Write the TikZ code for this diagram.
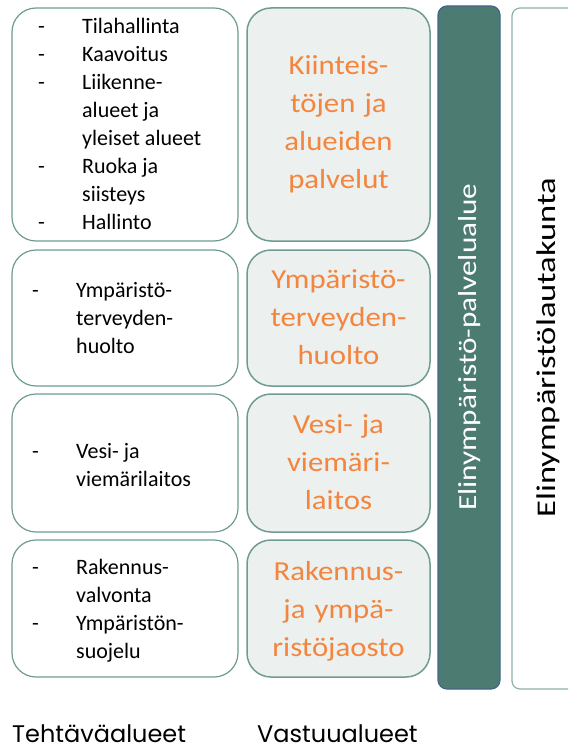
\documentclass[tikz,border=0pt]{standalone}
\usepackage{fontspec}
\setmainfont{Carlito}
\newfontfamily\labelfont{Poppins}
\newfontfamily\unitfont[FakeStretch=1.12]{Carlito}
\newfontfamily\areafont[FakeStretch=1.2]{Carlito}
\newfontfamily\boardfont[FakeStretch=1.28]{Carlito}
\usetikzlibrary{positioning}
\definecolor{boxline}{HTML}{6E9C92}
\definecolor{boxfill}{HTML}{ECF0EE}
\definecolor{areagreen}{HTML}{4B7B71}
\definecolor{areaedge}{HTML}{44648C}
\definecolor{unitorange}{HTML}{F3853E}
\definecolor{boardline}{HTML}{8FB0A6}

\begin{document}
\begin{tikzpicture}[x=1pt,y=-1pt,
	taskbox/.style={draw=boxline,line width=1.2pt,rounded corners=24pt,minimum width=226pt,outer sep=0pt,fill=white},
	unitbox/.style={draw=boxline,line width=1.5pt,rounded corners=24pt,minimum width=183pt,outer sep=0pt,fill=boxfill},
	tasklist/.style={anchor=base west,inner sep=0pt,font=\fontsize{22}{28}\selectfont},
	unitname/.style={anchor=base,inner sep=0pt,text width=180pt,align=center,text=unitorange,font=\unitfont\fontsize{27.5}{38}\selectfont},
	bottomlabel/.style={anchor=base west,inner sep=0pt,font=\labelfont\fontsize{24}{28}\selectfont}]
		\useasboundingbox (0,0) rectangle (568,751);
		\clip (0,0) rectangle (568,751);
		
		\node(t1) [taskbox,minimum height=233pt] at (125,124.5) {};
		\node(t2) [taskbox,minimum height=136pt,below=9pt of t1] {};
		\node(t3) [taskbox,minimum height=138pt,below=8pt of t2] {};
		\node(t4) [taskbox,minimum height=137pt,below=8pt of t3] {};
		
		\node(u1) [unitbox,minimum height=233pt,right=9pt of t1] {};
		\node(u2) [unitbox,minimum height=136pt,right=9pt of t2] {};
		\node(u3) [unitbox,minimum height=138pt,right=9pt of t3] {};
		\node(u4) [unitbox,minimum height=137pt,right=9pt of t4] {};
		
		\node(area) [draw=areaedge,fill=areagreen,line width=1.2pt,rounded corners=9pt,minimum width=62pt,minimum height=683pt] at (469,347.5) {};
		\node(board) [draw=boardline,fill=white,line width=1.2pt,rounded corners=8pt,minimum width=68pt,minimum height=681pt] at (546,348.5) {};
		
		% tehtavat
		\node(l1) [tasklist] at (38,34) {\begin{tabular}[t]{@{}p{44pt}@{}l@{}}
			-&Tilahallinta\\
			-&Kaavoitus\\
			-&Liikenne-\\
			&alueet ja\\
			&yleiset alueet\\
			-&Ruoka ja\\
			&siisteys\\
			-&Hallinto
		\end{tabular}};
		\node(l2) [tasklist] at (32,297) {\begin{tabular}[t]{@{}p{44pt}@{}l@{}}
			-&Ympäristö-\\
			&terveyden-\\
			&huolto
		\end{tabular}};
		\node(l3) [tasklist] at (32,458) {\begin{tabular}[t]{@{}p{44pt}@{}l@{}}
			-&Vesi- ja\\
			&viemärilaitos
		\end{tabular}};
		\node(l4) [tasklist] at (32,574) {\begin{tabular}[t]{@{}p{44pt}@{}l@{}}
			-&Rakennus-\\
			&valvonta\\
			-&Ympäristön-\\
			&suojelu
		\end{tabular}};
		
		% vastuualueet
		\node(n1) [unitname] at (338.5,75) {Kiinteis-\\töjen ja\\alueiden\\palvelut};
		\node(n2) [unitname] at (338.5,288) {Ympäristö-\\terveyden-\\huolto};
		\node(n3) [unitname] at (338.5,433) {Vesi- ja\\viemäri-\\laitos};
		\node(n4) [unitname] at (338.5,580) {Rakennus-\\ja ympä-\\ristöjaosto};
		
		\node(areaname) [rotate=90,text=white,font=\areafont\fontsize{26}{30}\selectfont] at (470,347) {Elinympäristö-palvelualue};
		\node(boardname) [rotate=90,font=\boardfont\fontsize{27}{30}\selectfont] at (548,347.5) {Elinympäristölautakunta};
		
		\node(tasklabel) [bottomlabel] at (12,742) {Tehtäväalueet};
		\node(unitlabel) [bottomlabel] at (257,742) {Vastuualueet};
		
		\end{tikzpicture}
\end{document}
